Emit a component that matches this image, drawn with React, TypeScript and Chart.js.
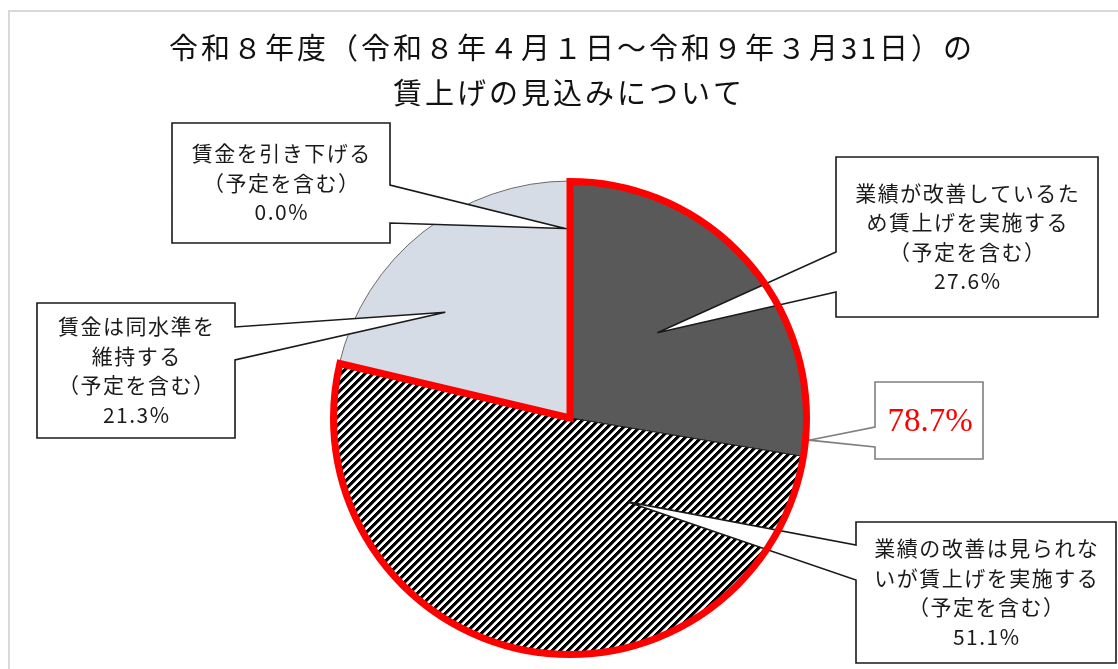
import React, { useEffect, useRef } from "react";
import { Chart, registerables } from "chart.js";

Chart.register(...registerables);

// ---- data ----
const TITLE_LINES = [
  "令和８年度（令和８年４月１日～令和９年３月31日）の",
  "賃上げの見込みについて",
];
const CATEGORIES = [
  "業績が改善しているため賃上げを実施する（予定を含む）",
  "業績の改善は見られないが賃上げを実施する（予定を含む）",
  "賃金は同水準を維持する（予定を含む）",
  "賃金を引き下げる（予定を含む）",
];
const VALUES = [27.6, 51.1, 21.3, 0.0];
const CALLOUT_TEXT = [
  ["業績が改善しているた", "め賃上げを実施する", "（予定を含む）"],
  ["業績の改善は見られな", "いが賃上げを実施する", "（予定を含む）"],
  ["賃金は同水準を", "維持する", "（予定を含む）"],
  ["賃金を引き下げる", "（予定を含む）"],
];
const HIGHLIGHT_SLICES = [0, 1];

// ---- layout / style ----
const W = 1118;
const H = 669;
const COLORS = ["#595959", "HATCH", "#d6dce5", "#d6dce5"];
const BORDERS = ["#222222", "#222222", "#6b6b6b", "#6b6b6b"];

type Callout = {
  box: [number, number, number, number];
  side: "left" | "right";
  base: [number, number];
  tipAngle: number;
  tipFrac: number;
};
const CALLOUTS: Callout[] = [
  { box: [836, 157, 1098, 317], side: "left", base: [252, 292], tipAngle: -44.3, tipFrac: 0.515 },
  { box: [856, 522, 1116, 663], side: "left", base: [545, 580], tipAngle: 55.4, tipFrac: 0.43 },
  { box: [37, 303, 235, 438], side: "right", base: [327, 360], tipAngle: 220.3, tipFrac: 0.69 },
  { box: [172, 123, 390, 243], side: "right", base: [185, 223], tipAngle: 268.5, tipFrac: 0.8 },
];
const TOTAL_CALLOUT: Callout = {
  box: [875, 382, 983, 459],
  side: "left",
  base: [427, 447],
  tipAngle: 5.3,
  tipFrac: 1.0,
};

function makeHatch(): CanvasPattern | string {
  const c = document.createElement("canvas");
  const n = 8;
  c.width = n;
  c.height = n;
  const ctx = c.getContext("2d");
  if (!ctx) return "#000";
  const img = ctx.createImageData(n, n);
  for (let y = 0; y < n; y++) {
    for (let x = 0; x < n; x++) {
      const v = (x + y) % n;
      let col = 255;
      if (v < 4) col = 0;
      else if (v === 4) col = 150;
      const i = (y * n + x) * 4;
      img.data[i] = col;
      img.data[i + 1] = col;
      img.data[i + 2] = col;
      img.data[i + 3] = 255;
    }
  }
  ctx.putImageData(img, 0, 0);
  const p = ctx.createPattern(c, "repeat");
  return p || "#000";
}

function drawCallout(
  ctx: CanvasRenderingContext2D,
  c: Callout,
  cx: number,
  cy: number,
  R: number,
  stroke: string
) {
  const [l, t, r, b] = c.box;
  const a = (c.tipAngle * Math.PI) / 180;
  const tx = cx + R * c.tipFrac * Math.cos(a);
  const ty = cy + R * c.tipFrac * Math.sin(a);
  ctx.beginPath();
  if (c.side === "right") {
    ctx.moveTo(l, t);
    ctx.lineTo(r, t);
    ctx.lineTo(r, c.base[0]);
    ctx.lineTo(tx, ty);
    ctx.lineTo(r, c.base[1]);
    ctx.lineTo(r, b);
    ctx.lineTo(l, b);
    ctx.closePath();
  } else {
    ctx.moveTo(r, t);
    ctx.lineTo(r, b);
    ctx.lineTo(l, b);
    ctx.lineTo(l, c.base[1]);
    ctx.lineTo(tx, ty);
    ctx.lineTo(l, c.base[0]);
    ctx.lineTo(l, t);
    ctx.closePath();
  }
  ctx.fillStyle = "#ffffff";
  ctx.fill();
  ctx.lineWidth = 1.6;
  ctx.lineJoin = "miter";
  ctx.strokeStyle = stroke;
  ctx.stroke();
}

function drawLines(ctx: CanvasRenderingContext2D, lines: string[], c: Callout) {
  const [l, t, r, b] = c.box;
  const lh = 29.5;
  const mx = (l + r) / 2;
  const my = (t + b) / 2;
  const y0 = my - ((lines.length - 1) * lh) / 2;
  ctx.fillStyle = "#1a1a1a";
  ctx.font = "21px 'Noto Sans CJK JP'";
  ctx.textAlign = "center";
  ctx.textBaseline = "middle";
  (ctx as any).letterSpacing = "1.5px";
  lines.forEach((s, i) => ctx.fillText(s, mx + 0.75, y0 + i * lh));
  (ctx as any).letterSpacing = "0px";
}

const overlayPlugin = {
  id: "overlay",
  beforeDraw(chart: any) {
    const ctx: CanvasRenderingContext2D = chart.ctx;
    ctx.save();
    ctx.fillStyle = "#ffffff";
    ctx.fillRect(0, 0, W, H);
    ctx.strokeStyle = "#d9d9d9";
    ctx.lineWidth = 2;
    ctx.beginPath();
    ctx.moveTo(9, H);
    ctx.lineTo(9, 11);
    ctx.lineTo(W, 11);
    ctx.stroke();
    ctx.fillStyle = "#111111";
    ctx.font = "29px 'Noto Sans CJK JP'";
    ctx.textAlign = "center";
    ctx.textBaseline = "middle";
    (ctx as any).letterSpacing = "3px";
    ctx.fillText(TITLE_LINES[0], 572, 48);
    ctx.fillText(TITLE_LINES[1], 569, 93);
    (ctx as any).letterSpacing = "0px";
    ctx.restore();
  },
  afterDatasetsDraw(chart: any) {
    const ctx: CanvasRenderingContext2D = chart.ctx;
    const meta = chart.getDatasetMeta(0);
    const first = meta.data[HIGHLIGHT_SLICES[0]];
    const last = meta.data[HIGHLIGHT_SLICES[HIGHLIGHT_SLICES.length - 1]];
    const { x, y, outerRadius, startAngle } = first.getProps(
      ["x", "y", "outerRadius", "startAngle"],
      true
    );
    const endAngle = last.getProps(["endAngle"], true).endAngle;
    ctx.save();
    // callouts
    CALLOUTS.forEach((c, i) => {
      drawCallout(ctx, c, x, y, outerRadius, "#1a1a1a");
      const lines = [...CALLOUT_TEXT[i], VALUES[i].toFixed(1) + "%"];
      drawLines(ctx, lines, c);
    });
    drawCallout(ctx, TOTAL_CALLOUT, x, y, outerRadius + 3, "#7f7f7f");
    const total = HIGHLIGHT_SLICES.reduce((s, k) => s + VALUES[k], 0);
    const [l, t, r, b] = TOTAL_CALLOUT.box;
    ctx.fillStyle = "#ff0000";
    ctx.font = "33px 'Liberation Serif'";
    ctx.textAlign = "center";
    ctx.textBaseline = "middle";
    ctx.fillText(total.toFixed(1) + "%", (l + r) / 2 + 1, (t + b) / 2 + 2);
    // red outline of highlighted group
    const R = outerRadius - 0.5;
    ctx.beginPath();
    ctx.moveTo(x, y);
    ctx.lineTo(x + R * Math.cos(startAngle), y + R * Math.sin(startAngle));
    ctx.arc(x, y, R, startAngle, endAngle);
    ctx.closePath();
    ctx.strokeStyle = "#ff0000";
    ctx.lineWidth = 7;
    ctx.lineJoin = "miter";
    ctx.stroke();
    ctx.restore();
  },
};

export default function App() {
  const ref = useRef<HTMLCanvasElement | null>(null);
  useEffect(() => {
    if (!ref.current) return;
    const hatch = makeHatch();
    const bg = COLORS.map((c) => (c === "HATCH" ? hatch : c));
    const cx = 570;
    const cy = 418;
    const R = 237;
    const chart = new Chart(ref.current, {
      type: "pie",
      data: {
        labels: CATEGORIES,
        datasets: [
          {
            data: VALUES,
            backgroundColor: bg as any,
            borderColor: BORDERS,
            borderWidth: 1,
            hoverOffset: 0,
            offset: 0,
            radius: R,
          } as any,
        ],
      },
      options: {
        responsive: false,
        animation: false,
        events: [],
        layout: {
          padding: { left: cx - R - 4, right: W - (cx + R + 4), top: cy - R - 4, bottom: H - (cy + R + 4) },
        },
        plugins: {
          legend: { display: false },
          tooltip: { enabled: false },
          title: { display: false },
        },
      } as any,
      plugins: [overlayPlugin],
    });
    return () => chart.destroy();
  }, []);
  return (
    <div style={{ position: "fixed", left: 0, top: 0, width: W, height: H, background: "#fff" }}>
      <canvas ref={ref} width={W} height={H} style={{ display: "block", width: W, height: H }} />
    </div>
  );
}
